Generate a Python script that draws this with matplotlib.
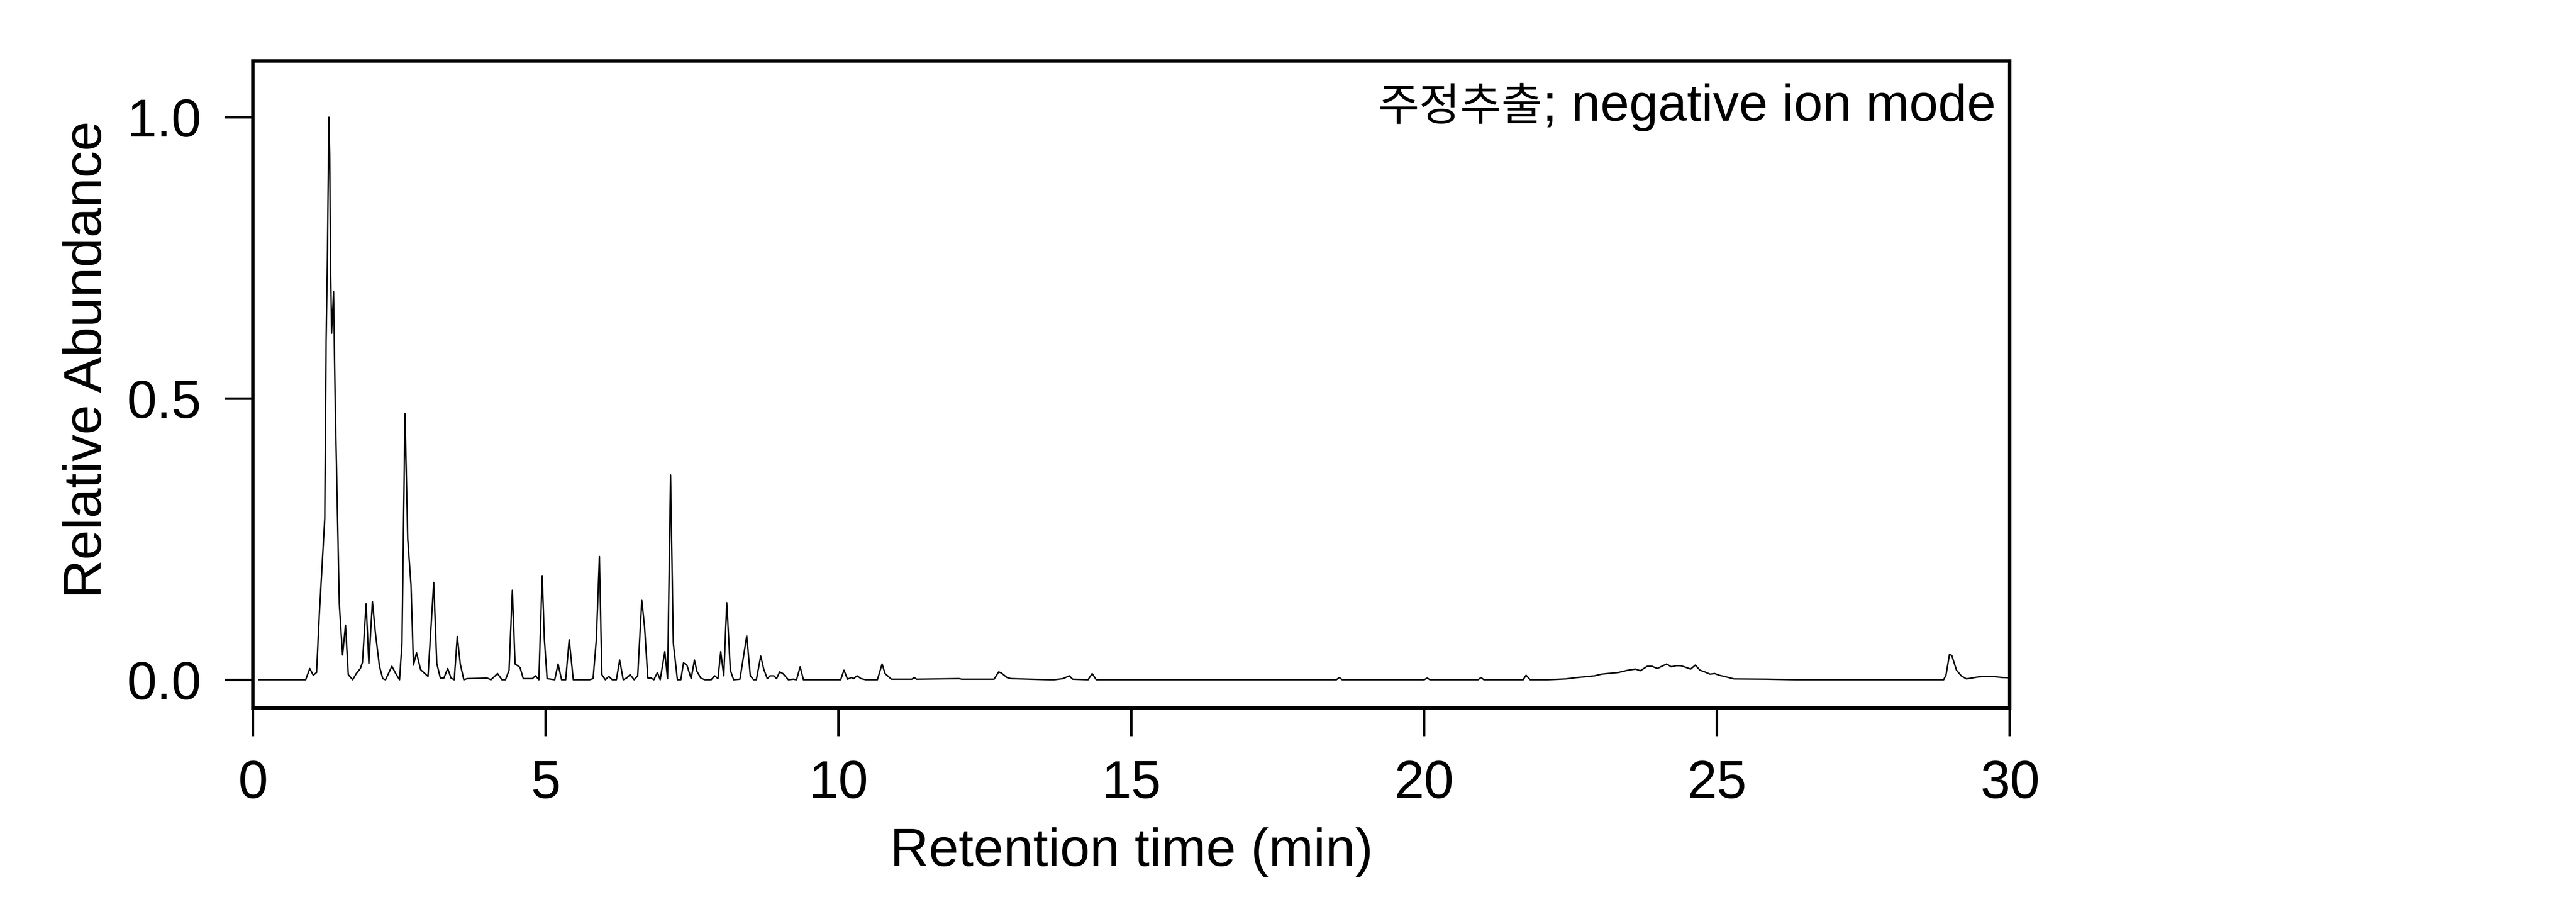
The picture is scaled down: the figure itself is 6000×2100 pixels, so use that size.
import numpy as np
import matplotlib.pyplot as plt

# chromatogram: retention time (min) and relative abundance
# 0 - 7.4 min (main peak cluster)
rt_early = [0.10, 0.90, 0.97, 1.03, 1.086, 1.133, 1.226, 1.249, 1.273, 1.296,
            1.31, 1.324, 1.343, 1.376, 1.404, 1.437, 1.474, 1.53, 1.58, 1.628,
            1.703, 1.764, 1.834, 1.87, 1.932, 1.979, 2.04, 2.091, 2.16, 2.217,
            2.264, 2.372, 2.433, 2.503, 2.545, 2.596, 2.643, 2.699, 2.741, 2.793,
            2.863, 2.989, 3.087, 3.139, 3.2, 3.26, 3.326, 3.382, 3.437, 3.489,
            3.54, 3.601, 3.657, 3.999, 4.064, 4.177, 4.251, 4.312, 4.373, 4.429,
            4.476, 4.56, 4.616, 4.77, 4.826, 4.882, 4.939, 4.976, 5.023, 5.153,
            5.21, 5.27, 5.34, 5.40, 5.47, 5.747, 5.808, 5.864, 5.916, 5.958,
            6.018, 6.075, 6.136, 6.206, 6.262, 6.323, 6.379, 6.44, 6.51, 6.57,
            6.64, 6.687, 6.743, 6.8, 6.846, 6.907, 6.954, 7.033, 7.08, 7.131,
            7.178, 7.248, 7.306, 7.352, 7.41]
ab_early = [0.0, 0.0, 0.020, 0.008, 0.013, 0.116, 0.287, 0.60, 0.764, 1.0,
            0.935, 0.745, 0.616, 0.69, 0.494, 0.324, 0.135, 0.044, 0.097, 0.009,
            0.0, 0.011, 0.020, 0.031, 0.135, 0.029, 0.139, 0.083, 0.024, 0.002,
            0.0, 0.024, 0.012, 0.0, 0.065, 0.473, 0.25, 0.168, 0.026, 0.048,
            0.018, 0.006, 0.173, 0.029, 0.003, 0.003, 0.02, 0.003, 0.0, 0.077,
            0.028, 0.0, 0.002, 0.003, 0.0, 0.011, 0.0, 0.0, 0.017, 0.159,
            0.028, 0.022, 0.002, 0.002, 0.007, 0.0, 0.185, 0.072, 0.002, 0.0,
            0.028, 0.0, 0.0, 0.071, 0.0, 0.0, 0.002, 0.072, 0.219, 0.009,
            0.0, 0.006, 0.0, 0.0, 0.035, 0.0, 0.003, 0.009, 0.0, 0.007,
            0.141, 0.094, 0.003, 0.003, 0.0, 0.013, 0.0, 0.05, 0.002, 0.364,
            0.065, 0.0, 0.0, 0.030, 0.026]

# 7.4 - 14.4 min (small peaks)
rt_mid = [7.483, 7.539, 7.581, 7.647, 7.717, 7.824, 7.885, 7.941, 7.988, 8.04,
          8.091, 8.152, 8.208, 8.316, 8.432, 8.493, 8.549, 8.596, 8.671, 8.722,
          8.783, 8.83, 8.895, 8.942, 8.994, 9.05, 9.143, 9.227, 9.283, 9.344,
          9.4, 10.036, 10.092, 10.153, 10.219, 10.256, 10.317, 10.383, 10.467, 10.663,
          10.743, 10.794, 10.902, 11.253, 11.29, 11.332, 12.056, 12.103, 12.655, 12.734,
          12.781, 12.875, 12.945, 13.6, 13.68, 13.833, 13.94, 13.997, 14.26, 14.33,
          14.40]
ab_mid = [0.002, 0.035, 0.015, 0.003, 0.0, 0.0, 0.007, 0.002, 0.05, 0.007,
          0.137, 0.017, 0.0, 0.001, 0.078, 0.007, 0.0, 0.0, 0.042, 0.019,
          0.002, 0.007, 0.007, 0.002, 0.014, 0.011, 0.0, 0.001, 0.0, 0.023,
          0.0, 0.0, 0.017, 0.001, 0.004, 0.002, 0.007, 0.002, 0.0, 0.0,
          0.028, 0.011, 0.001, 0.001, 0.004, 0.001, 0.002, 0.001, 0.001, 0.014,
          0.012, 0.004, 0.002, 0.0, 0.0, 0.002, 0.007, 0.001, 0.0, 0.011,
          0.0]

# 14.4 - 30 min (late hump and wash peak)
rt_late = [18.50, 18.55, 18.60, 20.0, 20.05, 20.10, 20.92, 20.97, 21.02, 21.69,
           21.74, 21.81, 22.1, 22.42, 22.58, 22.91, 23.03, 23.32, 23.48, 23.61,
           23.69, 23.81, 23.89, 23.98, 24.14, 24.22, 24.30, 24.38, 24.47, 24.55,
           24.63, 24.71, 24.79, 24.88, 24.96, 25.04, 25.16, 25.29, 25.86, 26.35,
           28.87, 28.91, 28.97, 29.01, 29.09, 29.17, 29.26, 29.46, 29.58, 29.70,
           29.87, 30.0]
ab_late = [0.0, 0.004, 0.0, 0.0, 0.003, 0.0, 0.0, 0.004, 0.0, 0.0,
           0.008, 0.0, 0.0, 0.0015, 0.0036, 0.007, 0.010, 0.013, 0.017, 0.019,
           0.016, 0.024, 0.024, 0.020, 0.028, 0.023, 0.025, 0.025, 0.022, 0.019,
           0.026, 0.017, 0.014, 0.010, 0.011, 0.008, 0.005, 0.0015, 0.001, 0.0,
           0.0, 0.008, 0.045, 0.043, 0.017, 0.007, 0.0015, 0.005, 0.006, 0.006,
           0.004, 0.0036]

x_ticks = [0, 5, 10, 15, 20, 25, 30]
y_ticks = [0.0, 0.5, 1.0]
y_tick_labels = ['0.0', '0.5', '1.0']
sample_name = '주정추출'
mode_text = '; negative ion mode'

rt = np.array(rt_early + rt_mid + rt_late)
ab = np.array(ab_early + ab_mid + ab_late)

plt.rcParams['font.family'] = ['Liberation Sans', 'Noto Sans CJK KR', 'DejaVu Sans']
plt.rcParams['font.size'] = 30

fig = plt.figure(figsize=(20, 7), dpi=300)
ax = fig.add_axes([0.0982, 0.2152, 0.682, 0.7172])

ax.plot(rt, ab, color='black', linewidth=0.8)

ax.set_xlim(0, 30)
ax.set_ylim(-0.05, 1.1)
ax.set_xticks(x_ticks)
ax.set_yticks(y_ticks)
ax.set_yticklabels(y_tick_labels)

for side in ['left', 'right', 'top', 'bottom']:
    ax.spines[side].set_linewidth(1.9)
ax.tick_params(axis='both', direction='out', length=15.8, width=1.4, pad=13, labelsize=30)
ax.tick_params(top=False, right=False)

ax.set_xlabel('Retention time (min)', labelpad=10)
ax.set_ylabel('Relative Abundance')
ax.yaxis.set_label_coords(-0.080, 0.5385)

# sample label: latin part right aligned, hangul part placed just before it
t_mode = ax.text(0.992, 0.9077, mode_text, transform=ax.transAxes,
                 ha='right', va='baseline', fontsize=29)
fig.canvas.draw()
bb = t_mode.get_window_extent()
x_left = ax.transAxes.inverted().transform((bb.x0, bb.y0))[0]
ax.text(x_left, 0.9077, sample_name, transform=ax.transAxes,
        ha='right', va='baseline', fontsize=25, family=['Noto Sans CJK KR', 'DejaVu Sans'])

fig.savefig('out.png', dpi=300)
